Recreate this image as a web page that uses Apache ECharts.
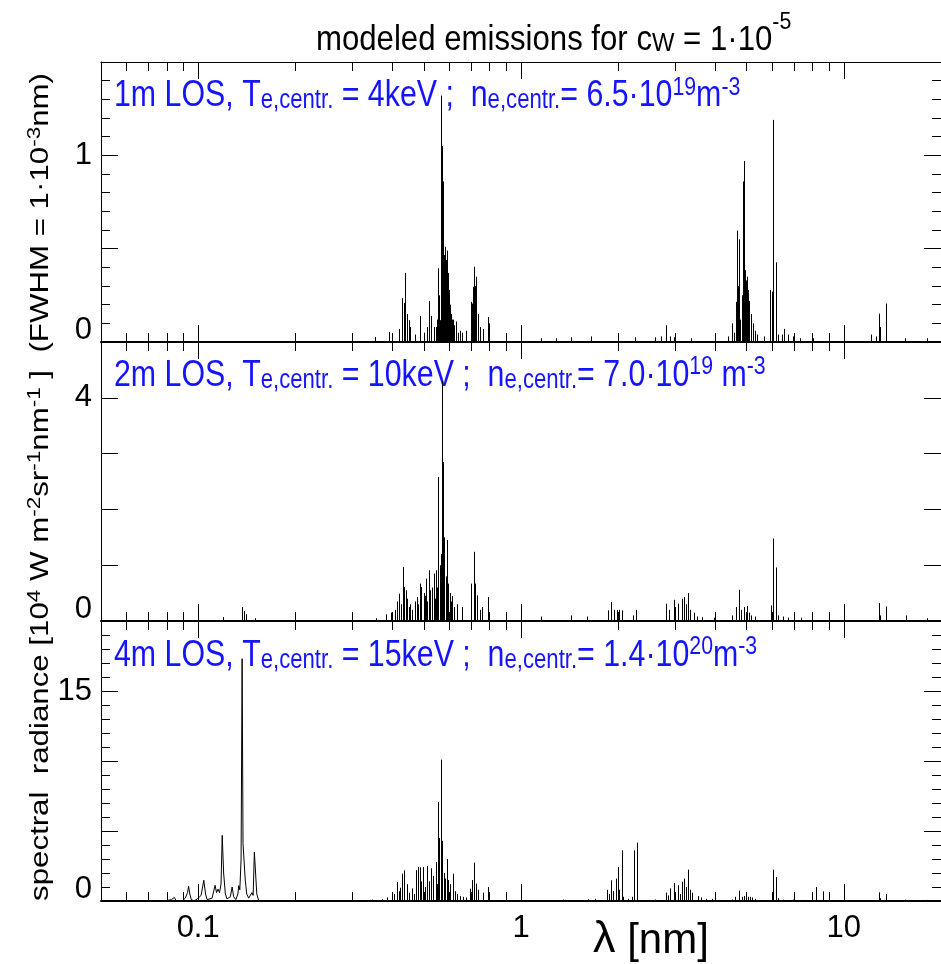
<!DOCTYPE html>
<html>
<head>
<meta charset="utf-8">
<script src="https://cdn.jsdelivr.net/npm/echarts@6/dist/echarts.min.js"></script>
<style>
  html, body { margin: 0; padding: 0; background: #fff; }
  #chart { width: 941px; height: 964px; }
</style>
</head>
<body>
<div id="chart"></div>
<script>
// Fonts: Helvetica-like face, horizontally condensed where the layout needs it
const SANS = '"Liberation Sans", Arial, sans-serif';
const NARROW_SCALE = 0.82;
const BLUE = '#1414ff';

// Wavelength axis (nm, logarithmic)
const xRange = [0.05, 20];
const xMajorTicks = [0.1, 1, 10];
const xMinorTicks = [0.06, 0.07, 0.08, 0.09, 0.2, 0.3, 0.4, 0.5, 0.6, 0.7, 0.8, 0.9,
                     2, 3, 4, 5, 6, 7, 8, 9, 20];
const xTickLabels = ['0.1', '1', '10'];

// Radiance axes, one per panel
const yMax = [1.5, 5, 20];
const yInterval = [0.5, 1, 5];
const yMinorSplit = [5, 0, 5];
const yLabelValues = [[0, 1], [0, 4], [0, 15]];

// Panel 1: 1 m line of sight, Te = 4 keV — [wavelength nm, radiance]
const spec1Lines = [
  [0.354, 0.027], [0.390, 0.054], [0.418, 0.07], [0.428, 0.235], [0.433, 0.21], [0.4385, 0.37],
  [0.444, 0.15], [0.449, 0.117], [0.454, 0.08], [0.470, 0.04], [0.485, 0.14], [0.4995, 0.05],
  [0.511, 0.08], [0.520, 0.22], [0.526, 0.14], [0.536, 0.08], [0.5446, 0.08], [0.5490, 0.12],
  [0.5525, 0.395], [0.5562, 0.2], [0.5590, 0.25], [0.5617, 0.117], [0.5640, 0.3], [0.5665, 1.32],
  [0.5696, 1.05], [0.5725, 0.86], [0.5753, 0.806], [0.5794, 0.466], [0.5815, 0.42], [0.5835, 0.51],
  [0.586, 0.44], [0.5888, 0.49], [0.591, 0.4], [0.593, 0.37], [0.596, 0.3], [0.5984, 0.278],
  [0.6012, 0.2], [0.6035, 0.17], [0.6057, 0.15], [0.610, 0.12], [0.6135, 0.1], [0.6174, 0.12],
  [0.6222, 0.09], [0.6274, 0.11], [0.6363, 0.05], [0.6453, 0.06], [0.6546, 0.05], [0.6779, 0.06],
  [0.6992, 0.215], [0.7052, 0.206], [0.7111, 0.296], [0.7152, 0.403], [0.7203, 0.3], [0.7240, 0.2],
  [0.7278, 0.35], [0.7356, 0.15], [0.745, 0.08], [0.7631, 0.07], [0.7901, 0.134], [0.7977, 0.1],
  [1.152, 0.02], [1.280, 0.02], [1.424, 0.025], [1.651, 0.03], [1.994, 0.04], [2.254, 0.025],
  [2.595, 0.025], [2.706, 0.03], [2.805, 0.09], [2.885, 0.03], [2.988, 0.025], [3.371, 0.02],
  [4.376, 0.03], [4.493, 0.10], [4.566, 0.05], [4.621, 0.215], [4.664, 0.597], [4.697, 0.3],
  [4.730, 0.55], [4.780, 0.12], [4.821, 0.25], [4.865, 0.86], [4.911, 0.97], [4.946, 0.385],
  [4.970, 0.33], [4.995, 0.35], [5.020, 0.3], [5.041, 0.278], [5.070, 0.22], [5.102, 0.188],
  [5.140, 0.15], [5.174, 0.117], [5.240, 0.1], [5.322, 0.06], [5.383, 0.04], [5.642, 0.03],
  [5.916, 0.278], [5.970, 0.27], [6.043, 1.19], [6.155, 0.427], [6.273, 0.04], [6.422, 0.04],
  [6.546, 0.07], [6.732, 0.04], [6.977, 0.03], [7.328, 0.02], [8.035, 0.02], [12.13, 0.04],
  [12.54, 0.03], [12.83, 0.152], [12.96, 0.08], [13.48, 0.206], [15.50, 0.02], [18.10, 0.02]
];

// Panel 2: 2 m line of sight, Te = 10 keV
const spec2Lines = [
  [0.1193, 0.07], [0.1368, 0.25], [0.1384, 0.18], [0.1406, 0.12], [0.1503, 0.05],
  [0.3548, 0.05], [0.3808, 0.12], [0.3945, 0.15], [0.4076, 0.2], [0.4130, 0.35], [0.4183, 0.49],
  [0.4253, 0.3], [0.4315, 0.97], [0.4355, 0.61], [0.4398, 0.55], [0.4450, 0.4], [0.4493, 0.25],
  [0.4540, 0.3], [0.4598, 0.2], [0.4680, 0.35], [0.4764, 0.43], [0.4800, 0.3], [0.4856, 0.67],
  [0.4911, 0.61], [0.4995, 0.5], [0.5040, 0.45], [0.5086, 0.76], [0.5130, 0.35], [0.5173, 0.91],
  [0.5239, 0.55], [0.5290, 0.6], [0.5359, 0.85], [0.5410, 0.4], [0.5457, 0.91], [0.5504, 0.6],
  [0.5551, 2.58], [0.5603, 1.0], [0.5640, 1.2], [0.5683, 4.3], [0.5725, 2.85], [0.5760, 1.1],
  [0.5794, 1.5], [0.5846, 0.8], [0.5888, 1.45], [0.5920, 0.6], [0.5961, 0.67], [0.6012, 0.5],
  [0.6050, 0.35], [0.6100, 0.45], [0.6200, 0.25], [0.6318, 0.3], [0.6546, 0.25], [0.6992, 0.67],
  [0.7162, 1.24], [0.7227, 0.67], [0.7313, 0.46], [0.7485, 0.2], [0.7594, 0.25], [0.7901, 0.43],
  [0.899, 0.1], [1.152, 0.08], [1.424, 0.1], [1.605, 0.08], [1.858, 0.19], [1.902, 0.34],
  [1.946, 0.2], [1.980, 0.2], [2.012, 0.2], [2.051, 0.19], [2.222, 0.1], [2.270, 0.2],
  [2.805, 0.31], [2.879, 0.2], [2.968, 0.38], [3.010, 0.25], [3.059, 0.31], [3.147, 0.4],
  [3.207, 0.43], [3.246, 0.3], [3.299, 0.5], [3.346, 0.2], [3.425, 0.15], [3.516, 0.08],
  [3.625, 0.07], [3.964, 0.06], [4.493, 0.1], [4.621, 0.25], [4.730, 0.56], [4.808, 0.2],
  [4.900, 0.25], [4.995, 0.27], [5.076, 0.15], [5.174, 0.1], [5.322, 0.08], [5.940, 0.28],
  [6.043, 1.48], [6.155, 0.96], [6.273, 0.1], [6.500, 0.08], [6.732, 0.06], [7.381, 0.06],
  [7.996, 0.05], [12.87, 0.32], [12.99, 0.1], [13.48, 0.26], [15.53, 0.1], [18.10, 0.05]
];

// Panel 3: 4 m line of sight, Te = 15 keV — sharp lines
const spec3Lines = [
  [0.3467, 0.1], [0.3721, 0.12], [0.3854, 0.26], [0.4041, 0.5], [0.4135, 1.36], [0.4179, 0.7],
  [0.4232, 0.95], [0.4282, 1.95], [0.4355, 2.19], [0.4438, 1.2], [0.4500, 0.6], [0.4598, 0.9],
  [0.4664, 0.5], [0.4741, 2.2], [0.4788, 2.43], [0.4856, 2.4], [0.4901, 1.4], [0.4970, 2.43],
  [0.5041, 1.0], [0.5112, 2.5], [0.5185, 1.4], [0.5258, 2.34], [0.5344, 1.8], [0.5435, 2.79],
  [0.5485, 1.2], [0.5536, 7.07], [0.5591, 4.5], [0.5656, 10.1], [0.5711, 4.3], [0.5785, 2.0],
  [0.5825, 1.6], [0.5888, 3.0], [0.5961, 1.5], [0.6034, 1.2], [0.6141, 1.95], [0.6228, 0.7],
  [0.6318, 0.5], [0.6453, 0.35], [0.6625, 0.3], [0.6779, 0.25], [0.6942, 0.88], [0.7026, 1.5],
  [0.7162, 2.74], [0.7244, 1.24], [0.7366, 0.8], [0.7631, 0.6], [0.7901, 1.0], [0.8995, 0.15],
  [1.000, 0.15], [1.346, 0.1], [1.617, 0.12], [1.699, 0.15], [1.845, 0.8], [1.875, 0.5],
  [1.897, 1.48], [1.929, 0.7], [1.966, 1.6], [1.994, 2.43], [2.017, 0.8], [2.051, 3.62],
  [2.070, 0.3], [2.145, 0.15], [2.201, 0.3], [2.242, 3.62], [2.280, 4.17], [2.595, 0.1],
  [2.805, 0.6], [2.855, 0.4], [2.895, 0.9], [2.968, 1.29], [3.010, 0.6], [3.059, 1.12],
  [3.107, 0.5], [3.147, 1.38], [3.207, 1.6], [3.246, 1.0], [3.299, 2.24], [3.346, 0.8],
  [3.394, 0.6], [3.523, 0.35], [3.617, 0.25], [3.747, 0.15], [3.909, 0.15], [4.502, 0.1],
  [4.598, 0.3], [4.730, 0.74], [4.831, 0.3], [4.900, 0.35], [4.970, 0.4], [5.041, 0.3],
  [5.113, 0.3], [5.185, 0.25], [5.296, 0.15], [6.043, 2.24], [6.155, 1.71], [6.273, 0.2],
  [6.500, 0.1], [6.977, 0.1], [7.485, 0.08], [8.222, 1.0], [8.622, 0.69], [8.995, 0.15],
  [12.87, 0.62], [12.99, 0.2], [13.48, 0.5], [15.50, 0.1], [18.10, 0.08]
];

// Panel 3: broadened hard x-ray features around 0.1 nm
const spec3Profile = [
  [0.0787, 0], [0.0826, 0.1], [0.0844, 0.25], [0.0856, 0], [0.0893, 0], [0.0912, 0.2],
  [0.0927, 0.6], [0.0934, 1.05], [0.0942, 0.5], [0.0952, 0.1], [0.0972, 0], [0.1000, 0.2],
  [0.1021, 0.4], [0.1041, 1.48], [0.1054, 0.5], [0.1066, 0.1], [0.1081, 0.05], [0.1104, 0.2],
  [0.1128, 1.12], [0.1140, 0.6], [0.1152, 0.85], [0.1164, 0.6], [0.1177, 1.2], [0.1187, 4.69],
  [0.1199, 2.0], [0.1214, 0.5], [0.1228, 0.15], [0.1245, 0.1], [0.1258, 0.3], [0.1274, 1.0],
  [0.1288, 0.3], [0.1308, 0.1], [0.1327, 0.5], [0.1336, 1.1], [0.1346, 0.8], [0.1358, 3.0],
  [0.1368, 17.3], [0.1377, 4.1], [0.1387, 4.1], [0.1399, 1.5], [0.1414, 0.5], [0.1434, 0.2],
  [0.1454, 0.1], [0.1468, 0.6], [0.1480, 0.4], [0.1493, 3.5], [0.1506, 3.45], [0.1519, 0.5],
  [0.1539, 0.05], [0.1572, 0]
];

// Panel annotations
const panelTexts = [
  '{m|1m LOS, T}{s|e,centr.}{m| = 4keV ;  n}{s|e,centr.}{m|= 6.5·10}{p|19}{m|m}{p|-3}',
  '{m|2m LOS, T}{s|e,centr.}{m| = 10keV ;  n}{s|e,centr.}{m|= 7.0·10}{p|19}{m| m}{p|-3}',
  '{m|4m LOS, T}{s|e,centr.}{m| = 15keV ;  n}{s|e,centr.}{m|= 1.4·10}{p|20}{m|m}{p|-3}'
];

// Layout
const GRID_LEFT = 101;
const GRID_RIGHT = -8;
const gridTops = [62, 342, 621];
const gridHeights = [280, 279, 280];

const labelFont = { fontSize: 31, fontFamily: SANS, color: '#000' };

function sameValue(a, b) { return Math.abs(a - b) <= 1e-9 * Math.max(1, Math.abs(b)); }

function renderEmissionLine(params, api) {
  const top = api.coord([api.value(0), api.value(1)]);
  const base = api.coord([api.value(0), 0]);
  const x = Math.round(top[0]) + 0.5;
  return {
    type: 'line',
    shape: { x1: x, y1: base[1], x2: x, y2: top[1] },
    style: { stroke: '#000', lineWidth: 1 }
  };
}

const grids = [], xAxes = [], yAxes = [], series = [];

for (let i = 0; i < 3; i++) {
  grids.push({ left: GRID_LEFT, right: GRID_RIGHT, top: gridTops[i], height: gridHeights[i] });

  const baseX = { gridIndex: i, type: 'log', logBase: 10, min: xRange[0], max: xRange[1],
                  splitLine: { show: false }, minorSplitLine: { show: false } };
  // bottom: major ticks (+ labels on the lowest panel)
  xAxes.push(Object.assign({}, baseX, {
    position: 'bottom',
    axisLine: { show: true, onZero: false, lineStyle: { color: '#000', width: 2 } },
    axisTick: { show: true, inside: true, length: 17, customValues: xMajorTicks,
                lineStyle: { color: '#000', width: 1 } },
    axisLabel: i === 2 ? Object.assign({
      show: true, margin: 12, customValues: xMajorTicks,
      formatter: v => { const k = xMajorTicks.findIndex(t => sameValue(t, v)); return k >= 0 ? xTickLabels[k] : ''; }
    }, labelFont) : { show: false }
  }));
  // bottom: minor ticks
  xAxes.push(Object.assign({}, baseX, {
    position: 'bottom',
    axisLine: { show: false, onZero: false },
    axisTick: { show: true, inside: true, length: 9, customValues: xMinorTicks,
                lineStyle: { color: '#000', width: 1 } },
    axisLabel: { show: false }
  }));
  // top: major + minor ticks (mirrored)
  xAxes.push(Object.assign({}, baseX, {
    position: 'top',
    axisLine: { show: true, onZero: false, lineStyle: { color: '#000', width: 1 } },
    axisTick: { show: true, inside: true, length: 17, customValues: xMajorTicks,
                lineStyle: { color: '#000', width: 1 } },
    axisLabel: { show: false }
  }));
  xAxes.push(Object.assign({}, baseX, {
    position: 'top',
    axisLine: { show: false, onZero: false },
    axisTick: { show: true, inside: true, length: 9, customValues: xMinorTicks,
                lineStyle: { color: '#000', width: 1 } },
    axisLabel: { show: false }
  }));

  const baseY = {
    gridIndex: i, type: 'value', min: 0, max: yMax[i], interval: yInterval[i],
    splitLine: { show: false }, minorSplitLine: { show: false },
    axisLine: { show: true, onZero: false, lineStyle: { color: '#000', width: 1 } },
    axisTick: { show: true, inside: true, length: 17, lineStyle: { color: '#000', width: 1 } },
    minorTick: { show: yMinorSplit[i] > 0, splitNumber: yMinorSplit[i] || 5, length: 9,
                 lineStyle: { color: '#000', width: 1 } }
  };
  const shown = yLabelValues[i];
  yAxes.push(Object.assign({}, baseY, {
    position: 'left',
    axisLabel: Object.assign({
      show: true, margin: 9,
      formatter: v => {
        if (!shown.some(s => sameValue(s, v))) return '';
        return v === 0 ? '{lo|0}' : '{n|' + v + '}';
      },
      rich: {
        lo: { fontSize: 31, fontFamily: SANS, color: '#000', padding: [0, 0, 24, 0] },
        n: { fontSize: 31, fontFamily: SANS, color: '#000' }
      }
    }, labelFont)
  }));
  yAxes.push(Object.assign({}, baseY, { position: 'right', axisLabel: { show: false } }));
}

const specs = [spec1Lines, spec2Lines, spec3Lines];
specs.forEach((data, i) => {
  series.push({
    type: 'custom', xAxisIndex: i * 4, yAxisIndex: i * 2,
    renderItem: renderEmissionLine, encode: { x: 0, y: 1 },
    data: data, silent: true, clip: true, animation: false
  });
});
series.push({
  type: 'line', xAxisIndex: 8, yAxisIndex: 4, data: spec3Profile,
  showSymbol: false, symbol: 'none', silent: true, animation: false,
  lineStyle: { color: '#000', width: 1 }
});

const blueRich = {
  m: { fontSize: 37, fontFamily: SANS, fill: BLUE, lineHeight: 40, verticalAlign: 'bottom' },
  s: { fontSize: 27, fontFamily: SANS, fill: BLUE, lineHeight: 15, verticalAlign: 'bottom' },
  p: { fontSize: 26, fontFamily: SANS, fill: BLUE, lineHeight: 19, verticalAlign: 'top' }
};
const annotationTops = [74.5, 354, 634];

const graphic = [
  {
    type: 'text', x: 316, y: 10.4, scaleX: NARROW_SCALE, scaleY: 0.9, silent: true,
    style: {
      text: '{m|modeled emissions for c}{s|W}{m| = 1·10}{p|-5}',
      align: 'left', verticalAlign: 'top',
      rich: {
        m: { fontSize: 38, fontFamily: SANS, fill: '#000', lineHeight: 52, verticalAlign: 'bottom' },
        s: { fontSize: 29, fontFamily: SANS, fill: '#000', lineHeight: 29, verticalAlign: 'bottom' },
        p: { fontSize: 26, fontFamily: SANS, fill: '#000', lineHeight: 8, verticalAlign: 'top' }
      }
    }
  },
  {
    type: 'text', x: 54, y: 487, rotation: Math.PI / 2, scaleX: 1.25, silent: true,
    style: {
      text: '{m|spectral  radiance [10}{p|4}{m| W m}{p|-2}{m|sr}{p|-1}{m|nm}{p|-1}{m| ]  (FWHM = 1·10}{p|-3}{m|nm)}',
      align: 'center', verticalAlign: 'bottom',
      rich: {
        m: { fontSize: 25, fontFamily: SANS, fill: '#000', lineHeight: 28, verticalAlign: 'bottom' },
        p: { fontSize: 18, fontFamily: SANS, fill: '#000', lineHeight: 10, verticalAlign: 'top' }
      }
    }
  },
  {
    type: 'text', x: 593, y: 962, silent: true,
    style: {
      text: '{l|λ}{n| [nm]}',
      align: 'left', verticalAlign: 'bottom',
      rich: {
        l: { fontSize: 45, fontFamily: SANS, fill: '#000', lineHeight: 50, verticalAlign: 'bottom' },
        n: { fontSize: 42, fontFamily: SANS, fill: '#000', lineHeight: 50, verticalAlign: 'bottom' }
      }
    }
  }
];
panelTexts.forEach((t, i) => {
  graphic.push({
    type: 'text', x: 114, y: annotationTops[i], scaleX: NARROW_SCALE, silent: true,
    style: { text: t, align: 'left', verticalAlign: 'top', rich: blueRich }
  });
});

const chart = echarts.init(document.getElementById('chart'), null, { renderer: 'canvas' });
chart.setOption({
  animation: false,
  backgroundColor: '#fff',
  grid: grids,
  xAxis: xAxes,
  yAxis: yAxes,
  series: series,
  graphic: graphic
});
</script>
</body>
</html>
